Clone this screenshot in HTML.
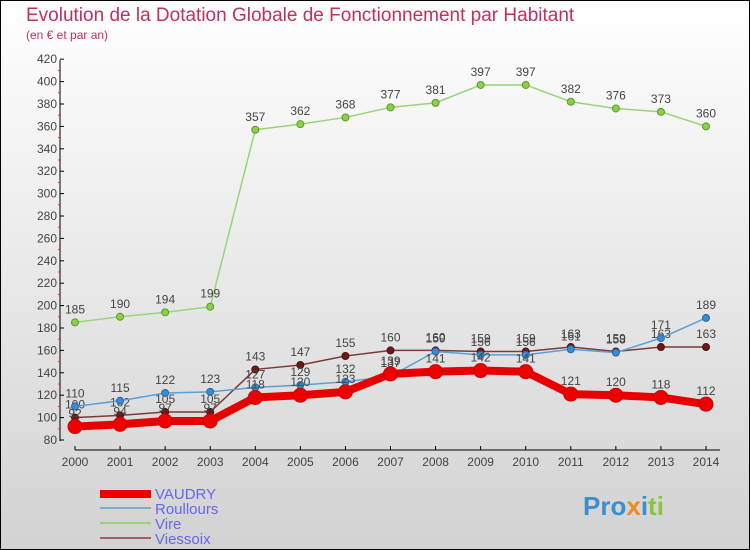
<!DOCTYPE html>
<html><head><meta charset="utf-8"><style>
body{margin:0;}
svg{display:block;font-family:"Liberation Sans",sans-serif;}
</style></head><body>
<svg id="c" width="750" height="550">
<defs><linearGradient id="bg" x1="0" y1="0" x2="0" y2="1"><stop offset="0" stop-color="#ffffff"/><stop offset="1" stop-color="#d2d2d2"/></linearGradient></defs>
<rect x="0.5" y="0.5" width="749" height="549" fill="url(#bg)" stroke="#000"/>
<text x="26" y="21" font-size="19" fill="#c0305e">Evolution de la Dotation Globale de Fonctionnement par Habitant</text>
<text x="26" y="39" font-size="12" fill="#c0305e">(en € et par an)</text>
<g id="axes"></g><g id="series"></g>
<g>
<rect x="100" y="490" width="51" height="8" fill="#e00"/>
<text x="155" y="499" font-size="15" fill="#6666ee">VAUDRY</text>
<rect x="100" y="507" width="51" height="2" fill="#7aadcc"/>
<text x="155" y="514" font-size="15" fill="#6666ee">Roullours</text>
<rect x="100" y="522" width="51" height="2" fill="#99d477"/>
<text x="155" y="529" font-size="15" fill="#6666ee">Vire</text>
<rect x="100" y="537" width="51" height="2" fill="#9a6262"/>
<text x="155" y="544" font-size="15" fill="#6666ee">Viessoix</text>
</g>
<text x="583" y="515" font-size="26" font-weight="bold" fill="#3a8fd0">Pro<tspan fill="#f08a1c">x</tspan><tspan fill="#3a8fd0">i</tspan><tspan fill="#8cc43c">ti</tspan></text>
</svg>
<script>
const years=[2000,2001,2002,2003,2004,2005,2006,2007,2008,2009,2010,2011,2012,2013,2014];
const vaudry=[92,94,97,97,118,120,123,139,141,142,141,121,120,118,112];
const roullours=[110,115,122,123,127,129,132,137,159,156,156,161,158,171,189];
const vire=[185,190,194,199,357,362,368,377,381,397,397,382,376,373,360];
const viessoix=[100,102,105,105,143,147,155,160,160,159,159,163,159,163,163];
const yTicks=[80,100,120,140,160,180,200,220,240,260,280,300,320,340,360,380,400,420];
const NS='http://www.w3.org/2000/svg';
const x=i=>75+i*(706-75)/(years.length-1);
const y=v=>440-(v-80)*1.12;
function mk(t,a,p){const e=document.createElementNS(NS,t);for(const k in a)e.setAttribute(k,a[k]);p.appendChild(e);return e;}
const ax=document.getElementById('axes'),sg=document.getElementById('series');
let l=mk('line',{x1:60,y1:60,x2:60,y2:441,stroke:'#000'},ax);


l=mk('line',{x1:75,y1:450,x2:720,y2:450,stroke:'#000'},ax);


yTicks.forEach(v=>{
  mk('line',{x1:60,y1:y(v),x2:64,y2:y(v),stroke:'#000'},ax);
  if(v<420)mk('line',{x1:58,y1:y(v+10),x2:61,y2:y(v+10),stroke:'#e33'},ax);
  const t=mk('text',{x:57,y:y(v)+4,'font-size':12,'text-anchor':'end',fill:'#444'},ax);
  t.textContent=v;
  
  
});
years.forEach((yr,i)=>{
  mk('line',{x1:x(i),y1:446,x2:x(i),y2:450,stroke:'#000'},ax);
  const t=mk('text',{x:x(i),y:466,'font-size':12,'text-anchor':'middle',fill:'#444'},ax);
  t.textContent=yr;
  
  
});
function series(name,vals,color,lw,r,dot,dotStroke){
  const g=mk('g',{},sg);
  
  
  const p=mk('polyline',{points:vals.map((v,i)=>x(i)+','+y(v)).join(' '),fill:'none',stroke:color,'stroke-width':lw,'stroke-linejoin':'round'},g);
  
  
  vals.forEach((v,i)=>{
    const c=mk('circle',{cx:x(i),cy:y(v),r:r,fill:dot,stroke:dotStroke,'stroke-width':1},g);
    
    
    const t=mk('text',{x:x(i),y:y(v)-9,'font-size':12,'text-anchor':'middle',fill:'#444'},g);
    t.textContent=v;
    
    
  });
}
series('vire',vire,'#99d477',1.5,3.5,'#8cd04a','#5a9a2a');
series('viessoix',viessoix,'#7a3a3a',1.5,3.5,'#6a1a1a','#4a1010');
series('roullours',roullours,'#5aa0d8',1.5,3.5,'#3a8ad0','#2a6aa0');
series('vaudry',vaudry,'#e80000',8,7,'#ee0000','#cc0000');
</script>
</body></html>
